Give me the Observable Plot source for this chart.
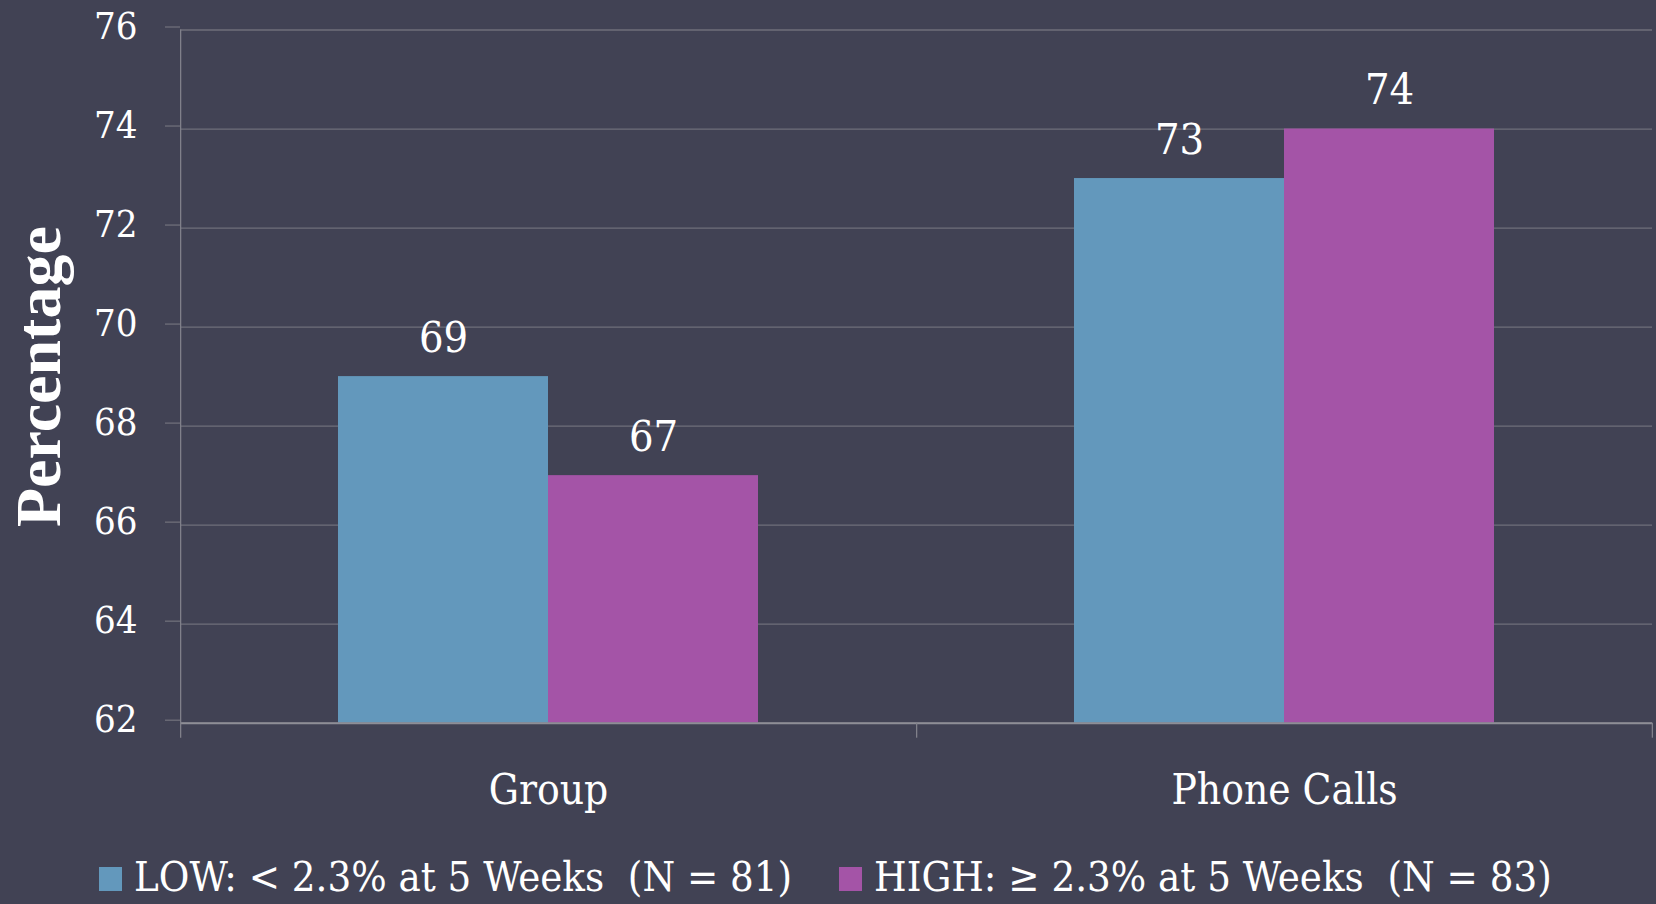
<!DOCTYPE html>
<html>
<head>
<meta charset="utf-8">
<script src="https://cdn.jsdelivr.net/npm/d3@7"></script>
<script src="https://cdn.jsdelivr.net/npm/@observablehq/plot@0.6"></script>
<style>
  html, body { margin: 0; padding: 0; background: #414254; }
  body { width: 1656px; height: 904px; overflow: hidden; font-family: "DejaVu Serif Condensed", "DejaVu Serif", serif; color: #fff; }
  #legend { display: flex; align-items: baseline; padding-left: 99px; margin-top: 11px; font-size: 41.5px; line-height: 42px; white-space: pre; }
  .item { display: flex; align-items: baseline; margin-right: 47px; }
  .sw { display: inline-block; width: 23px; height: 24px; margin-right: 12px; }
</style>
</head>
<body>
<div id="chart"></div>
<div id="legend"></div>
<script>
const groups = ["Group", "Phone Calls"];
const series = ["LOW: < 2.3% at 5 Weeks  (N = 81)", "HIGH: \u2265 2.3% at 5 Weeks  (N = 83)"];
const lowValues = [69, 73];
const highValues = [67, 74];
const yTicks = [62, 64, 66, 68, 70, 72, 74, 76];
const yLabel = "Percentage";
const colors = ["#6398bc", "#a454a7"];

const data = groups.flatMap((g, i) => [
  {group: g, series: series[0], value: lowValues[i]},
  {group: g, series: series[1], value: highValues[i]}
]);

const W = 1656, H = 845, ML = 180, MR = 4, MT = 29.5, MB = 122.3;
const padOuter = 0.75;
const facetW = (W - ML - MR) / groups.length;
const step = facetW / (series.length + 2 * padOuter);
const edge = step * (0.5 + padOuter);
const gridColor = "#6f6f7a";
const axisColor = "#80808a";
const yMin = yTicks[0], yMax = yTicks[yTicks.length - 1];
const tickLen = 15;
const pxPerUnit = (H - MT - MB) / (yMax - yMin);
const yBelow = yMin - tickLen / pxPerUnit;
const FONT = "'DejaVu Serif Condensed', 'DejaVu Serif', serif";

const chart = Plot.plot({
  width: W, height: H,
  marginLeft: ML, marginRight: MR, marginTop: MT, marginBottom: MB,
  style: {background: "transparent", color: "#fff", fontFamily: FONT, overflow: "visible"},
  fx: {domain: groups, padding: 0, axis: null, label: null},
  x: {domain: series, paddingInner: 0, paddingOuter: padOuter, axis: null, label: null},
  y: {domain: [yMin, yMax], axis: null, label: null},
  color: {domain: series, range: colors},
  marks: [
    Plot.gridY(yTicks, {stroke: gridColor, strokeOpacity: 1, strokeWidth: 1.3}),
    Plot.barY(data, {fx: "group", x: "series", y1: yMin, y2: "value", fill: "series"}),
    Plot.ruleY([yMin], {stroke: "#8e8e96", strokeWidth: 2}),
    Plot.ruleX([groups[0]], {fx: d => d, x: () => series[0], y1: () => yMax, y2: () => yBelow, dx: -edge, stroke: axisColor, strokeWidth: 1.3}),
    Plot.ruleX(groups.slice(1), {fx: d => d, x: () => series[0], y1: () => yMin, y2: () => yBelow, dx: -edge, stroke: axisColor, strokeWidth: 1.3}),
    Plot.ruleX([groups[groups.length - 1]], {fx: d => d, x: () => series[series.length - 1], y1: () => yMin, y2: () => yBelow, dx: edge, stroke: axisColor, strokeWidth: 1.3}),
    Plot.axisY(yTicks, {tickSize: tickLen, tickPadding: 28, tickFormat: d => String(d), fontSize: 38, stroke: gridColor, strokeWidth: 1.3, fill: "#fff", dy: -3, label: null}),
    Plot.axisFx({anchor: "bottom", tickSize: 0, tickPadding: 51, fontSize: 42, fill: "#fff", label: null}),
    Plot.text(data, {fx: "group", x: "series", y: "value", text: d => String(d.value), lineAnchor: "bottom", dy: -25, fontSize: 43, fill: "#fff"}),
    Plot.text([yLabel], {fx: () => groups[0], frameAnchor: "left", text: d => d, rotate: -90, textAnchor: "middle", dx: -141, fontSize: 64, fontWeight: "bold", fontFamily: "'Liberation Serif', 'DejaVu Serif', serif", fill: "#fff"})
  ]
});
document.getElementById("chart").appendChild(chart);

const legend = document.getElementById("legend");
series.forEach((s, i) => {
  const item = document.createElement("div");
  item.className = "item";
  const sw = document.createElement("span");
  sw.className = "sw";
  sw.style.background = colors[i];
  const t = document.createElement("span");
  t.textContent = s;
  item.appendChild(sw);
  item.appendChild(t);
  legend.appendChild(item);
});
</script>
</body>
</html>
